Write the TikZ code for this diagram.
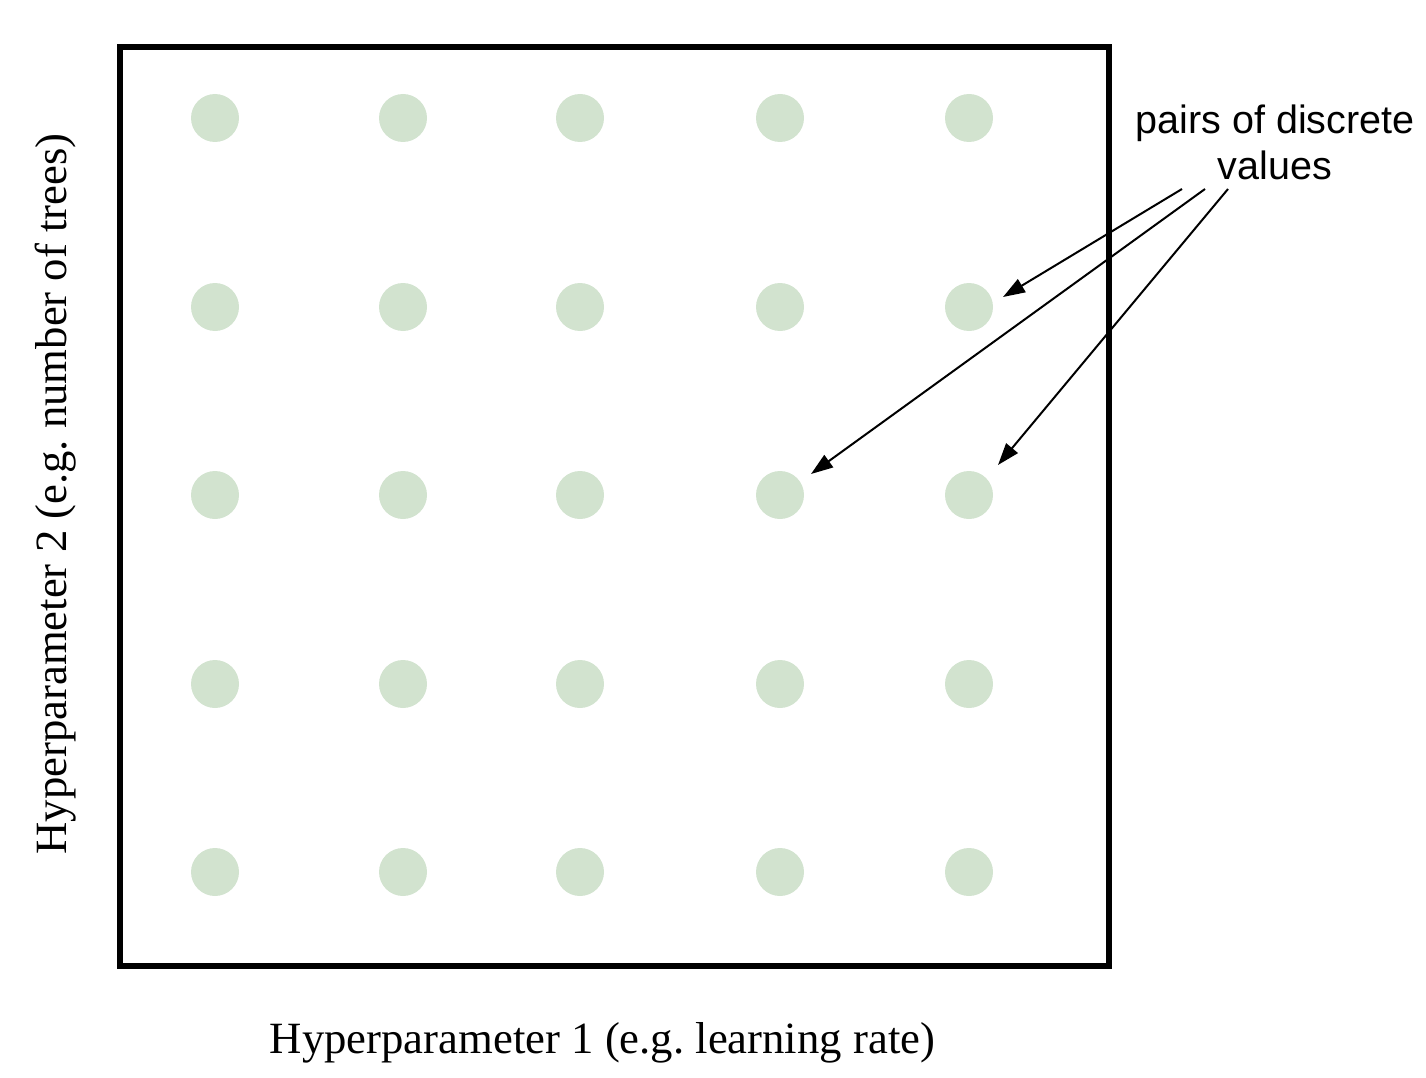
\documentclass[tikz,border=0pt]{standalone}
\usepackage{fontspec}
\setmainfont{Liberation Serif}
\newfontfamily\arialfont{Liberation Sans}
\usetikzlibrary{arrows.meta}
\definecolor{dotgreen}{RGB}{210,227,207}
\frenchspacing
\begin{document}
\begin{tikzpicture}[x=1pt,y=-1pt,
  gdot/.style={circle,fill=dotgreen,draw=none,minimum size=48pt,inner sep=0pt},
  frame/.style={draw=black,line width=6pt},
  ptr/.style={line width=2pt,-{Triangle[length=22pt,width=15pt]}},
  axlabel/.style={font=\fontsize{44.7}{50}\selectfont,inner sep=0pt},
  note/.style={font=\arialfont\fontsize{39.5}{47}\selectfont,align=center,inner sep=0pt}]
\useasboundingbox (0,0) rectangle (1426,1078);
\node[frame,minimum width=989pt,minimum height=919pt,inner sep=0pt] (box) at (614.5,506.5) {};
\foreach \c/\x in {1/215,2/403,3/580,4/780,5/969}{
  \foreach \r/\y in {1/118,2/307,3/495,4/684,5/872}{
    \node[gdot] (d\c\r) at (\x,\y) {};
  }
}
\node[axlabel,anchor=base] (xlab) at (602.5,1053) {Hyperparameter 1 (e.g.\ learning rate)};
\node[axlabel,anchor=base,rotate=90] (ylab) at (66,494) {Hyperparameter 2 (e.g.\ number of trees)};
\node[note,anchor=base] (lab) at (1275,180) {pairs of discrete\\values};
\coordinate (s1) at (1182,189);
\coordinate (s2) at (1205,189);
\coordinate (s3) at (1228,189);
\coordinate (t1) at (1003,297);
\coordinate (t2) at (811,474);
\coordinate (t3) at (998,465);
\draw[ptr] (s1) -- (t1);
\draw[ptr] (s2) -- (t2);
\draw[ptr] (s3) -- (t3);
\end{tikzpicture}
\end{document}
